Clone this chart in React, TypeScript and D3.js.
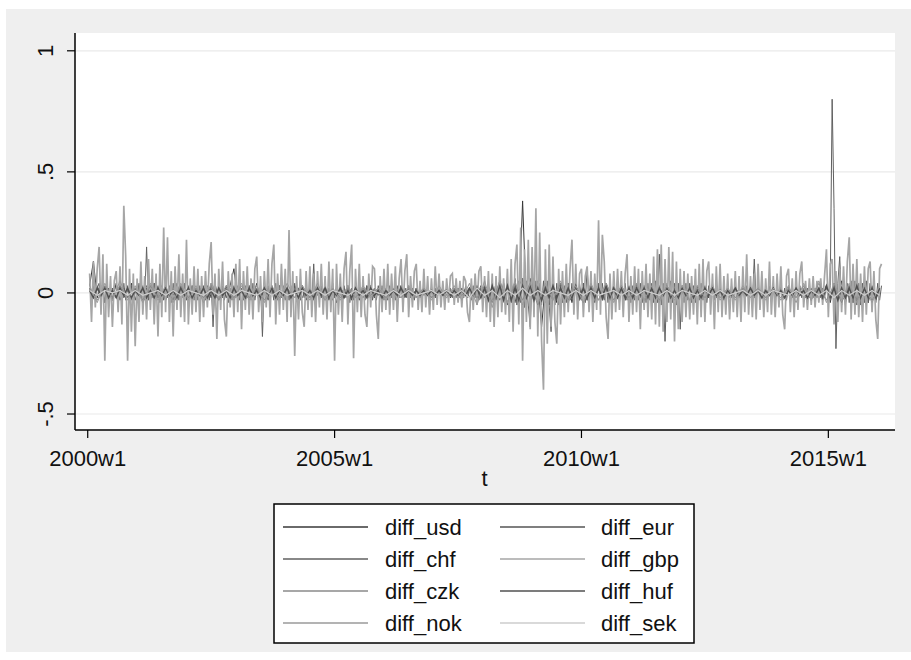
import * as d3 from 'd3';

// weekly index: 0 = 2000w1 (Stata weeks, 52 per year)
const tickWeeks = [0, 260, 520, 780];
const tickLabels = ['2000w1', '2005w1', '2010w1', '2015w1'];
const yTicks = [-0.5, 0, 0.5, 1];
const yTickLabels = ['-.5', '0', '.5', '1'];

// values, one entry every `step` weeks starting at 2000w2
const diffUsd = [
  .03,.13,-.02,.03,-.04,.02,-.03,.04,-.03,.02,-.02,.04,-.03,.03,-.04,.02,-.03,.04,-.02,.03,
  -.03,.02,-.03,.04,-.02,.03,-.04,.03,-.02,.02,-.03,.03,-.02,.04,-.03,.03,-.02,.03,.10,-.03,
  .02,-.03,.03,-.02,.04,-.03,.02,-.03,.03,-.02,.03,-.03,.02,-.04,.03,-.02,.03,-.03,.02,-.03,
  .03,-.02,.03,-.03,.02,-.04,.03,-.02,.03,-.03,.02,-.03,.03,-.02,.03,-.02,.02,-.03,.02,-.02,
  .02,-.02,.03,-.02,.02,-.03,.02,-.02,.02,-.01,.02,-.02,.02,-.01,.02,-.02,.01,-.02,.02,-.01,
  .02,-.02,.03,-.02,.02,-.03,.03,-.03,.04,-.03,.04,-.04,.05,-.06,.38,-.05,.06,-.04,.05,-.14,
  .04,-.05,.03,-.04,.04,-.03,.04,-.04,.03,-.03,.04,-.03,.03,-.04,.03,-.03,.04,-.03,.03,-.02,
  .03,-.03,.02,-.03,.03,-.02,.03,-.03,.02,-.03,.03,-.02,.03,-.03,.02,-.03,.03,-.02,.03,-.02,
  .02,-.03,.02,-.02,.03,-.02,.02,-.03,.02,-.02,.03,-.02,.02,-.01,.02,-.02,.01,-.02,.02,-.01,
  .02,-.01,.02,-.02,.01,-.02,.02,-.01,.02,-.02,.01,-.02,.02,-.03,.03,-.04,.04,-.03,.05,-.04,
  .03,-.04,.04,-.03,.03,-.04,.03,-.03,.02
];

const diffEur = [
  .02,-.02,.03,-.01,.02,-.03,.02,-.02,.02,-.02,.01,-.03,.02,.02,-.02,.03,-.02,.01,-.02,.02,
  -.03,.02,-.01,.02,-.02,.03,-.02,.02,-.01,.02,-.03,.02,.01,-.02,.02,-.02,.03,-.01,.02,-.02,
  .02,-.03,.02,-.01,.02,-.02,.03,-.02,.01,-.02,.02,-.02,.02,-.03,.01,.02,-.02,.02,-.02,.03,
  -.01,.02,-.02,.02,-.03,.02,-.01,.02,-.02,.02,-.02,.01,-.02,.03,-.02,.02,-.01,.02,-.02,.01,
  -.02,.01,-.01,.02,-.01,.02,-.02,.01,-.01,.02,-.02,.01,-.01,.02,-.01,.01,-.02,.02,-.01,.02,
  -.02,.02,-.02,.03,-.02,.03,-.03,.04,-.03,.04,-.05,.04,-.04,.03,.06,-.04,.03,-.04,.04,-.03,
  .03,-.04,.03,-.03,.02,-.03,.03,-.02,.03,-.03,.02,-.03,.03,-.02,.03,-.03,.02,-.03,.03,-.02,
  .02,-.03,.02,-.02,.03,-.02,.02,-.03,.02,-.02,.02,-.02,.03,-.02,.02,-.02,.02,-.02,.03,-.02,
  .02,-.02,.02,-.01,.02,-.02,.01,-.02,.02,-.01,.02,-.02,.01,-.01,.02,-.01,.01,-.02,.01,-.01,
  .02,-.01,.01,-.02,.01,-.01,.02,-.01,.02,-.02,.01,-.02,.02,-.03,.03,-.02,.03,-.03,.02,-.03,
  .03,-.02,.03,-.02,.02,-.03,.02,-.02,.02
];

const diffChf = [
  .02,-.02,.03,-.03,.02,.04,-.02,.03,-.04,.03,-.03,.02,-.03,.03,.02,-.02,.03,-.03,.04,-.03,
  .03,-.02,.03,-.04,.02,-.03,.04,-.02,.03,-.03,.19,-.03,.03,-.02,.04,-.03,.03,-.04,.02,-.03,
  .03,-.02,.03,-.04,.04,-.03,.02,-.03,.03,-.02,.04,-.03,.03,-.02,.03,-.03,.02,-.03,.03,-.02,
  .03,-.03,.02,-.03,.04,-.14,.03,-.02,.03,-.03,.02,-.03,.03,-.04,.02,-.03,.03,-.02,.03,-.03,
  .02,-.03,.03,-.02,.03,-.03,.04,-.03,.02,-.03,.03,-.18,.03,-.02,.03,-.03,.02,-.03,.04,-.03,
  .03,-.02,.03,-.03,.02,-.03,.03,-.02,.04,-.03,.02,-.03,.03,-.02,.03,-.03,.02,-.03,.12,-.03,
  .02,-.03,.03,-.02,.03,-.03,.02,-.03,.04,-.02,.03,-.03,.02,-.03,.03,-.02,.03,-.04,.02,-.03,
  .03,-.02,.03,-.03,.02,-.03,.03,-.02,.03,-.03,.02,-.03,.03,-.02,.03,-.03,.02,-.03,.03,-.02,
  .02,-.03,.03,-.02,.03,-.03,.02,-.02,.03,-.02,.02,-.03,.02,-.02,.03,-.02,.02,-.02,.03,-.02,
  .02,-.02,.02,-.02,.03,-.02,.02,-.02,.02,-.02,.02,-.02,.02,-.02,.02,-.02,.02,-.02,.03,-.02,
  .02,-.03,.03,-.02,.03,-.03,.02,-.03,.03,-.02,.03,-.03,.02,-.03,.03,-.04,.03,-.03,.04,-.03,
  .04,-.04,.05,-.05,.06,-.05,.05,-.04,.06,-.06,.05,-.05,-.14,.06,-.05,.05,-.06,.04,-.05,.05,
  -.04,.05,-.05,-.16,.04,-.05,.04,-.05,.04,-.04,.03,-.04,.04,-.03,.04,-.04,.03,-.04,.04,-.03,
  .04,-.04,.10,-.03,.04,-.04,.03,-.04,.04,-.03,.04,-.03,.03,-.04,.03,-.03,.04,-.03,.03,-.04,
  .03,-.03,.04,-.03,.03,-.04,.03,-.03,.04,-.03,.04,-.04,.03,-.04,.04,-.03,.04,-.04,.05,-.04,
  .16,-.05,.04,-.20,.04,-.04,.05,-.04,.04,-.05,.04,-.15,.03,-.04,.04,-.03,.04,-.04,.03,-.04,
  .03,-.03,.04,-.03,.03,-.04,.03,-.03,.04,-.03,.03,-.04,.03,-.03,.02,-.03,.03,-.02,.03,-.03,
  .03,-.02,.03,-.03,.02,-.03,.03,-.02,.03,-.03,.14,-.03,.03,-.02,.03,-.03,.02,-.03,.03,-.02,
  .02,-.03,.03,-.02,.03,-.03,.02,-.03,.03,-.02,.03,-.03,.02,-.02,.03,-.02,.02,-.02,.02,-.02,
  .02,-.02,.02,-.02,.02,-.02,.02,-.02,.03,-.03,.03,.80,.35,-.23,.04,.15,-.05,.04,-.05,.04,
  -.04,.05,-.04,.05,-.05,.04,-.05,.04,-.04,.05,-.04,.04,-.05,.03,-.04,.04,-.03,.03
];

const diffGbp = [
  .08,-.12,.13,-.06,.10,.19,-.09,.16,-.28,.12,-.10,.07,-.14,.05,.09,-.08,.11,-.13,.36,.15,
  -.28,.10,-.16,.08,-.22,.06,-.12,.13,-.09,.07,-.11,.14,-.07,.10,-.13,.08,-.18,.12,-.10,.27,
  -.08,.23,-.12,.09,-.18,.11,-.07,.16,-.10,.08,-.12,.22,-.13,.06,-.09,.11,-.08,.10,-.12,.07,
  -.10,.09,-.06,.12,.21,-.09,.08,-.19,.10,-.07,.13,-.11,-.18,.09,-.06,.08,-.10,.12,-.08,.14,
  -.15,.09,-.07,.11,-.09,.06,-.11,.10,.15,-.08,.07,-.12,.09,-.06,.14,-.10,.12,.20,-.13,.08,
  -.09,.12,-.07,.10,-.12,.26,-.10,.09,-.26,.07,-.11,.10,-.08,-.14,.09,-.07,.11,-.10,.08,-.12,
  .09,-.06,.12,-.09,.07,-.11,.13,-.08,.10,-.28,.12,-.09,.08,-.12,.10,.17,-.13,.09,.20,-.27,
  .10,-.08,.12,-.10,.07,-.09,-.14,.08,-.06,.11,.10,-.09,-.19,.07,-.08,.10,-.07,.12,-.09,.08,
  -.07,.11,-.12,.06,.14,-.08,.09,.16,-.10,.07,-.06,.09,.12,-.07,.05,-.08,.10,-.06,.07,-.09,
  .06,-.07,.11,-.05,.08,-.06,.05,-.07,.06,-.04,.07,.08,-.05,.06,-.04,.05,-.06,.07,.05,-.08,
  -.12,.06,-.07,.08,-.05,.09,.11,-.08,.07,-.10,.09,-.12,.08,-.14,.07,-.10,.11,-.08,.06,-.09,
  .10,-.12,.14,-.16,.12,.20,-.13,.27,-.28,.18,-.12,.22,-.15,.19,-.10,.35,-.18,.25,-.20,-.40,
  .18,-.21,.20,-.14,.15,-.12,-.21,.10,-.13,.09,-.10,.12,-.08,.10,.22,-.09,.12,-.11,.08,.10,
  -.10,.07,.11,-.08,.09,-.12,.08,-.07,.30,-.09,.24,.13,-.10,-.19,.08,-.11,.09,-.08,.10,-.07,
  .09,-.10,.08,.16,-.12,.07,-.09,.11,-.08,.10,-.15,.09,-.07,.12,-.10,.08,-.11,.15,-.13,.18,
  -.14,.20,-.16,.14,-.12,.19,-.11,.17,-.20,.13,-.15,.10,-.12,.09,-.10,.08,-.11,.07,-.09,.10,
  -.13,.12,-.10,.14,-.12,.09,.13,-.09,.08,-.15,.11,-.08,.12,-.10,.07,-.09,.08,-.11,.06,-.08,
  .09,-.10,.07,-.12,.11,-.08,.16,-.09,.07,-.10,.08,-.11,.12,-.07,.09,-.10,.06,-.08,.13,-.09,
  .07,-.10,.08,-.06,.11,-.09,-.15,.07,.10,-.08,.06,-.10,.09,-.07,.08,.13,-.06,.05,-.07,.06,
  -.05,.07,-.06,.05,-.04,.06,-.05,.07,.18,-.10,.12,.14,-.13,.09,-.12,.10,-.08,.11,-.09,.13,
  .23,-.11,.12,-.09,.14,-.10,.08,-.12,.11,-.09,.10,.13,-.08,.09,-.11,-.19,.10,.12
];

const diffCzk = [
  .02,-.03,.03,-.02,.03,-.02,.02,-.03,.03,-.02,.02,-.03,.03,-.02,.02,-.02,.03,-.03,.02,-.02,
  .03,-.02,.02,-.03,.02,-.02,.02,-.02,.03,-.02,.02,-.03,.02,-.02,.02,-.02,.02,-.01,.02,-.02,
  .01,-.02,.02,-.01,.02,-.02,.01,-.02,.02,-.01,.02,-.02,.03,-.04,.05,-.04,.04,-.03,.04,-.05,
  .03,-.03,.04,-.03,.03,-.04,.03,-.03,.04,-.03,.03,-.02,.03,-.03,.02,-.03,.03,-.02,.02,-.03,
  .02,-.02,.02,-.02,.02,-.02,.02,-.01,.02,-.02,.01,-.02,.02,-.02,.03,-.03,.04,-.03,.03,-.04,
  .03,-.03,.02,-.03,.02
];

const diffHuf = [
  .01,-.02,.02,-.01,.02,-.02,.01,-.02,.02,-.01,.02,-.02,.01,-.01,.02,-.02,.01,-.02,.02,-.01,
  .02,-.01,.01,-.02,.02,-.01,.02,-.02,.01,-.01,.02,-.02,.01,-.02,.02,-.01,.01,-.02,.02,-.01,
  .01,-.02,.02,-.01,.01,-.02,.02,-.01,.02,-.02,.01,-.01,.02,-.02,.01,-.02,.02,-.01,.01,-.02,
  .02,-.01,.02,-.02,.01,-.01,.02,-.02,.01,-.02,.02,-.01,.01,-.02,.02,-.01,.01,-.02,.01,-.01,
  .01,-.01,.02,-.01,.01,-.01,.01,-.01,.01,-.01,.01,-.01,.01,-.01,.01,-.01,.01,-.01,.01,-.01,
  .02,-.01,.02,-.02,.02,-.03,.03,-.02,.03,-.03,.03,-.03,.02,-.03,.03,-.02,.03,-.03,.02,-.03,
  .02,-.02,.03,-.02,.02,-.02,.02,-.02,.03,-.02,.02,-.02,.02,-.02,.02,-.02,.03,-.02,.02,-.02,
  .02,-.02,.02,-.02,.02,-.01,.02,-.02,.02,-.02,.02,-.01,.02,-.02,.01,-.02,.02,-.01,.02,-.02,
  .01,-.02,.02,-.01,.02,-.01,.01,-.02,.01,-.01,.02,-.01,.01,-.01,.02,-.01,.01,-.02,.01,-.01,
  .02,-.01,.01,-.02,.01,-.01,.02,-.01,.01,-.02,.01,-.01,.02,-.02,.03,-.02,.02,-.03,.02,-.02,
  .02,-.02,.03,-.02,.02,-.02,.02,-.02,.02
];

const diffNok = [
  .03,-.04,.04,-.03,.05,-.03,.03,-.04,.04,-.03,.03,-.04,.04,-.03,.03,-.04,.04,-.02,.03,-.03,
  .04,-.03,.03,-.04,.03,-.03,.04,-.02,.03,-.03,.04,-.03,.02,-.03,.03,-.02,.03,-.02,.02,-.03,
  .02,-.02,.03,-.02,.02,-.03,.03,-.02,.03,-.03,.04,-.05,.05,-.06,.05,-.04,.05,-.05,.04,-.04,
  .04,-.03,.05,-.04,.03,-.04,.04,-.03,.04,-.04,.03,-.03,.04,-.03,.03,-.04,.03,-.03,.03,-.03,
  .03,-.02,.03,-.03,.02,-.03,.03,-.02,.02,-.03,.02,-.03,.03,-.04,.04,-.03,.05,-.04,.04,-.03,
  .04,-.04,.03,-.04,.03
];

const diffSek = [
  .01,-.01,.01,0,.01,-.01,.01,-.01,0,.01,-.01,.01,-.01,.01,0,-.01,.01,-.01,.01,-.01,
  .01,0,-.01,.01,-.01,.01,-.01,0,.01,-.01,.01,-.01,.01,0,-.01,.01,-.01,.01,0,-.01,
  .01,-.01,.01,-.01,0,.01,-.01,.01,-.01,.01,-.02,.02,-.01,.01,-.02,.01,-.01,.02,-.01,.01,
  -.01,.01,0,-.01,.01,-.01,.01,-.01,0,.01,-.01,.01,-.01,.01,0,-.01,.01,-.01,.01,0,
  -.01,.01,-.01,.01,-.01,0,.01,-.01,.01,-.01,.01,0,-.01,.01,-.01,.01,-.01,.01,-.02,.01,
  -.01,.01,-.01,.01,-.01
];

const series = [
  { name: 'diff_usd', values: diffUsd, step: 4, color: '#383838', width: 1 },
  { name: 'diff_eur', values: diffEur, step: 4, color: '#545454', width: 1 },
  { name: 'diff_chf', values: diffChf, step: 2, color: '#606060', width: 1 },
  { name: 'diff_gbp', values: diffGbp, step: 2, color: '#a6a6a6', width: 1.7 },
  { name: 'diff_czk', values: diffCzk, step: 8, color: '#8a8a8a', width: 1 },
  { name: 'diff_huf', values: diffHuf, step: 4, color: '#505050', width: 1.5 },
  { name: 'diff_nok', values: diffNok, step: 8, color: '#9a9a9a', width: 1 },
  { name: 'diff_sek', values: diffSek, step: 8, color: '#cdcdcd', width: 1.2 }
];

const FONT = "'Liberation Sans', Arial, sans-serif";

export default function App() {
  const width = 911;
  const height = 660;
  const plot = { left: 75, right: 895, top: 33, bottom: 430 };

  const x = d3.scaleLinear().domain([-13.4, 850.2]).range([plot.left, plot.right]);
  const y = d3.scaleLinear().domain([-0.566, 1.0735]).range([plot.bottom, plot.top]);

  const lines = series.map((s) => {
    const line = d3
      .line<number>()
      .x((_, i) => x(2 + i * s.step))
      .y((v) => y(v));
    return { ...s, path: line(s.values) || '' };
  });

  const legend = { x: 274, y: 504, w: 420, h: 139 };
  const rowY = [527, 559, 591, 623];
  const cols = [
    { lx1: 283, lx2: 368, tx: 385 },
    { lx1: 500, lx2: 585, tx: 601 }
  ];

  return (
    <svg
      width={width}
      height={height}
      style={{ position: 'absolute', left: 0, top: 0, background: '#fff' }}
      fontFamily={FONT}
    >
      <rect x={6} y={9} width={905} height={643} fill="#efefef" />
      <rect x={plot.left} y={plot.top} width={plot.right - plot.left} height={plot.bottom - plot.top} fill="#fff" />

      {yTicks.map((t) => (
        <line key={`g${t}`} x1={plot.left} x2={plot.right} y1={y(t)} y2={y(t)} stroke="#eaeaea" strokeWidth={1.2} />
      ))}

      <g>
        {lines.map((s) => (
          <path key={s.name} d={s.path} fill="none" stroke={s.color} strokeWidth={s.width} strokeLinejoin="miter" />
        ))}
      </g>

      {/* axes */}
      <line x1={plot.left} x2={plot.left} y1={plot.top} y2={plot.bottom} stroke="#000" strokeWidth={1.5} />
      <line x1={plot.left} x2={plot.right} y1={plot.bottom} y2={plot.bottom} stroke="#000" strokeWidth={1.5} />

      {yTicks.map((t, i) => (
        <g key={`y${t}`}>
          <line x1={plot.left - 8} x2={plot.left} y1={y(t)} y2={y(t)} stroke="#000" strokeWidth={1.2} />
          <text
            transform={`translate(53,${y(t)}) rotate(-90)`}
            textAnchor="middle"
            fontSize={22}
            fill="#111"
          >
            {yTickLabels[i]}
          </text>
        </g>
      ))}

      {tickWeeks.map((w, i) => (
        <g key={`x${w}`}>
          <line x1={x(w)} x2={x(w)} y1={plot.bottom} y2={plot.bottom + 8} stroke="#000" strokeWidth={1.2} />
          <text x={x(w)} y={466} textAnchor="middle" fontSize={22} fill="#111">
            {tickLabels[i]}
          </text>
        </g>
      ))}
      <text x={(plot.left + plot.right) / 2 - 0.5} y={486} textAnchor="middle" fontSize={22} fill="#111">
        t
      </text>

      {/* legend */}
      <rect x={legend.x} y={legend.y} width={legend.w} height={legend.h} fill="#fff" stroke="#000" strokeWidth={1.5} />
      {series.map((s, i) => {
        const col = cols[i % 2];
        const ry = rowY[Math.floor(i / 2)];
        return (
          <g key={`l${s.name}`}>
            <line x1={col.lx1} x2={col.lx2} y1={ry} y2={ry} stroke={s.color} strokeWidth={Math.min(s.width, 1.2) + 0.4} />
            <text x={col.tx} y={ry + 8} fontSize={22} fill="#111">
              {s.name}
            </text>
          </g>
        );
      })}
    </svg>
  );
}
